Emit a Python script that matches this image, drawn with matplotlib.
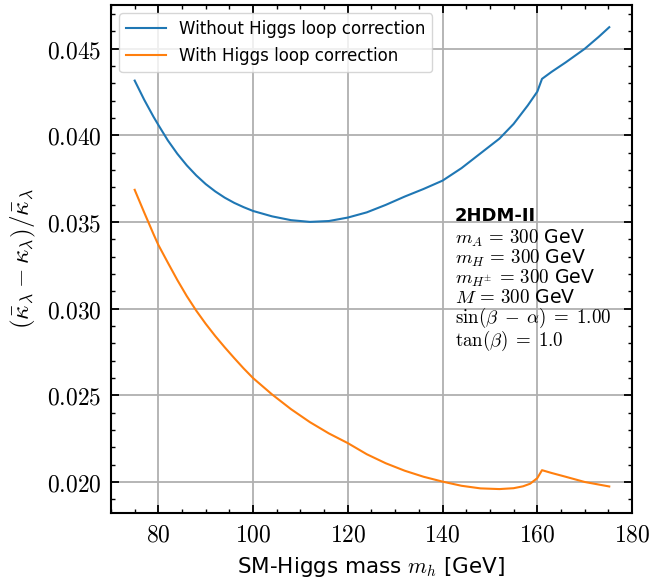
import matplotlib
matplotlib.use('Agg')
import matplotlib.pyplot as plt
from matplotlib.ticker import FuncFormatter, AutoMinorLocator

plt.rcParams['mathtext.fontset'] = 'cm'
plt.rcParams['font.family'] = 'DejaVu Sans'

# Werte
mh_blue = [75, 77, 79, 80, 82, 84, 86, 88, 90, 92, 94, 96, 98, 100, 104, 108, 112, 116,
           120, 124, 128, 132, 136, 140, 144, 148, 152, 155, 158, 160, 161, 163, 166,
           170, 173, 175.2]
kappa_without = [0.04315, 0.04205, 0.04105, 0.04059, 0.03970, 0.03893, 0.03826, 0.03768,
                 0.03718, 0.03676, 0.03640, 0.03610, 0.03585, 0.03563, 0.03532, 0.03510,
                 0.03500, 0.03505, 0.03525, 0.03555, 0.03598, 0.03646, 0.03690, 0.03738,
                 0.03810, 0.03895, 0.03980, 0.04065, 0.04172, 0.04251, 0.04325, 0.04365,
                 0.04420, 0.04498, 0.04568, 0.04623]

mh_orange = [75, 77, 79, 80, 82, 84, 86, 88, 90, 92, 94, 96, 98, 100, 104, 108, 112, 116,
             120, 124, 128, 132, 136, 140, 144, 148, 152, 155, 157, 158.5, 160, 161, 163,
             166, 170, 175.2]
kappa_with = [0.03685, 0.03555, 0.03428, 0.03367, 0.03265, 0.03165, 0.03072, 0.02988,
              0.02912, 0.02842, 0.02777, 0.02715, 0.02655, 0.02599, 0.02505, 0.02420,
              0.02345, 0.02280, 0.02224, 0.02160, 0.02108, 0.02065, 0.02030, 0.02002,
              0.01978, 0.01963, 0.01959, 0.01964, 0.01975, 0.01990, 0.02022, 0.02068,
              0.02052, 0.02030, 0.02000, 0.01974]

info_lines = [r'$m_A\,=\,300$ GeV', r'$m_H\,=\,300$ GeV', r'$m_{H^{\pm}}\,=\,300$ GeV',
              r'$M\,=\,300$ GeV', r'$\sin(\beta\;-\;\alpha)\;=\;1.00$', r'$\tan(\beta)\;=\;1.0$']

fig = plt.figure(figsize=(6.5, 5.8), dpi=100)
ax = fig.add_axes([111 / 650, 67 / 580, 521 / 650, 508 / 580])

ax.plot(mh_blue, kappa_without, color='#1f77b4', lw=1.5, label='Without Higgs loop correction')
ax.plot(mh_orange, kappa_with, color='#ff7f0e', lw=1.5, label='With Higgs loop correction')

ax.set_xlim(70, 180)
ax.set_ylim(0.01821, 0.04751)
ax.set_xticks([80, 100, 120, 140, 160, 180])
ax.set_yticks([0.020, 0.025, 0.030, 0.035, 0.040, 0.045])
ax.xaxis.set_major_formatter(FuncFormatter(lambda v, p: f'${v:.0f}$'))
ax.yaxis.set_major_formatter(FuncFormatter(lambda v, p: f'${v:.3f}$'))
ax.xaxis.set_minor_locator(AutoMinorLocator(4))
ax.yaxis.set_minor_locator(AutoMinorLocator(5))
ax.tick_params(which='both', direction='in', top=True, right=True, labelsize=17)
ax.tick_params(which='major', length=6, width=1.3, pad=7)
ax.tick_params(which='minor', length=3, width=1.0)
for s in ax.spines.values():
    s.set_linewidth(1.5)
ax.grid(True, color='#b0b0b0', lw=1.3)

ax.set_xlabel(r'SM-Higgs mass $m_h$ [GeV]', fontsize=15.5, labelpad=6)
ax.set_ylabel(r'$(\bar{\kappa}_\lambda - \kappa_\lambda)/\bar{\kappa}_\lambda$', fontsize=18, labelpad=6)

ax.legend(loc='upper left', fontsize=12, handlelength=2.4, labelspacing=0.55)

# Infobox: Titel und Parameterzeilen als ein Textblock
ax.text(142.6, 0.03506, '2HDM-II', fontsize=13, fontweight='bold', va='baseline')
ax.text(142.6, 0.03468, '\n'.join(info_lines), fontsize=13.6, va='top', linespacing=0.93)

fig.savefig('out.png', dpi=100)
